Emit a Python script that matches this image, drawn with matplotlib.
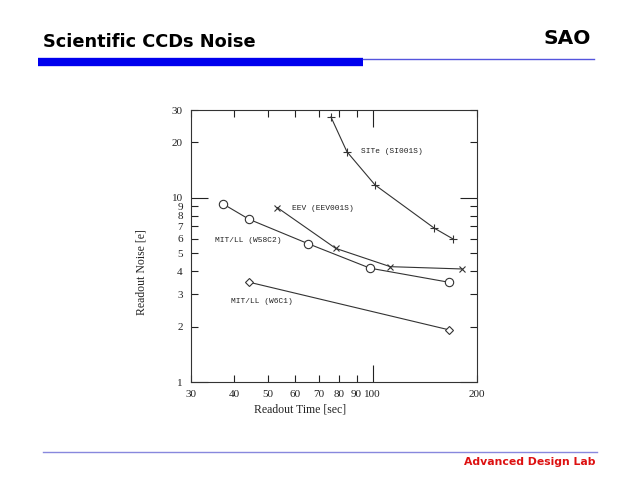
import matplotlib.pyplot as plt

# data (readout time [sec], readout noise [e])
site_t = [75.9, 84.4, 101.7, 150.4, 170.6]
site_n = [27.5, 17.8, 11.75, 6.86, 5.98]
eev_t = [53.2, 78.3, 112.5, 181.1]
eev_n = [8.85, 5.32, 4.23, 4.11]
w58_t = [37.1, 44.1, 65.2, 98.4, 166.1]
w58_n = [9.27, 7.65, 5.64, 4.15, 3.48]
w6_t = [44.2, 166.1]
w6_n = [3.48, 1.92]

x_ticks = [30, 40, 50, 60, 70, 80, 90, 200]
y_ticks = [2, 3, 4, 5, 6, 7, 8, 9, 20, 30]

fig = plt.figure(figsize=(6.4, 4.8), dpi=100)

# header
fig.text(43 / 640, 1 - 42 / 480, "Scientific CCDs Noise", fontsize=12.8,
         fontweight="bold", family="DejaVu Sans", va="center", ha="left")
fig.text(591 / 640, 1 - 38 / 480, "SAO", fontsize=14.5, fontweight="bold",
         family="DejaVu Sans", va="center", ha="right")
fig.add_artist(plt.Line2D([38 / 640, 363 / 640], [1 - 62 / 480] * 2,
                          color="#0000ee", lw=6, solid_capstyle="butt"))
fig.add_artist(plt.Line2D([363 / 640, 594 / 640], [1 - 59 / 480] * 2,
                          color="#5555dd", lw=1))
# footer
fig.add_artist(plt.Line2D([43 / 640, 597 / 640], [1 - 452 / 480] * 2,
                          color="#8888dd", lw=1))
fig.text(596 / 640, 1 - 462 / 480, "Advanced Design Lab", fontsize=7.8,
         fontweight="bold", color="#dd1111", family="DejaVu Sans",
         va="center", ha="right")

ax = fig.add_axes([191 / 640, 1 - 382 / 480, 286 / 640, 272 / 480])
ax.set_xscale("log")
ax.set_yscale("log")
ax.set_xlim(30, 200)
ax.set_ylim(1, 30)

lc = "#333333"
ax.plot(site_t, site_n, color=lc, lw=0.8, marker="+", ms=6, mew=0.8)
ax.plot(eev_t, eev_n, color=lc, lw=0.8, marker="x", ms=5, mew=0.8)
ax.plot(w58_t, w58_n, color=lc, lw=0.8, marker="o", ms=6, mfc="white", mew=0.8)
ax.plot(w6_t, w6_n, color=lc, lw=0.8, marker="D", ms=4, mfc="white", mew=0.8)

lab = dict(family="Liberation Mono", fontsize=5.7, color="#222222", va="center")
ax.text(92.7, 17.8, "SITe (SI001S)", **lab)
ax.text(58.6, 8.71, "EEV (EEV001S)", **lab)
ax.text(35.2, 5.86, "MIT/LL (W58C2)", **lab)
ax.text(39.1, 2.73, "MIT/LL (W6C1)", **lab)

# decade ticks long, the rest short, everything labelled
ax.set_xticks([100])
ax.set_xticklabels(["100"])
ax.set_xticks(x_ticks, minor=True)
ax.set_xticklabels([str(v) for v in x_ticks], minor=True)
ax.set_yticks([1, 10])
ax.set_yticklabels(["1", "10"])
ax.set_yticks(y_ticks, minor=True)
ax.set_yticklabels([str(v) for v in y_ticks], minor=True)
ax.tick_params(which="major", direction="in", length=12, width=0.8,
               top=True, right=True, labelsize=8, pad=6, colors="#222222")
ax.tick_params(which="minor", direction="in", length=5, width=0.8,
               top=True, right=True, labelsize=8, pad=6, colors="#222222")
for lbl in ax.get_xticklabels(which="both") + ax.get_yticklabels(which="both"):
    lbl.set_family("Liberation Serif")
for s in ax.spines.values():
    s.set_linewidth(0.8)
    s.set_color("#333333")

fig.text(300 / 640, 1 - 409 / 480, "Readout Time [sec]", family="Liberation Serif",
         fontsize=8.5, ha="center", va="center", color="#222222")
fig.text(141 / 640, 1 - 272 / 480, "Readout Noise [e]", family="Liberation Serif",
         fontsize=8.5, ha="center", va="center", rotation=90, color="#222222")

fig.savefig("out.png", dpi=100)
